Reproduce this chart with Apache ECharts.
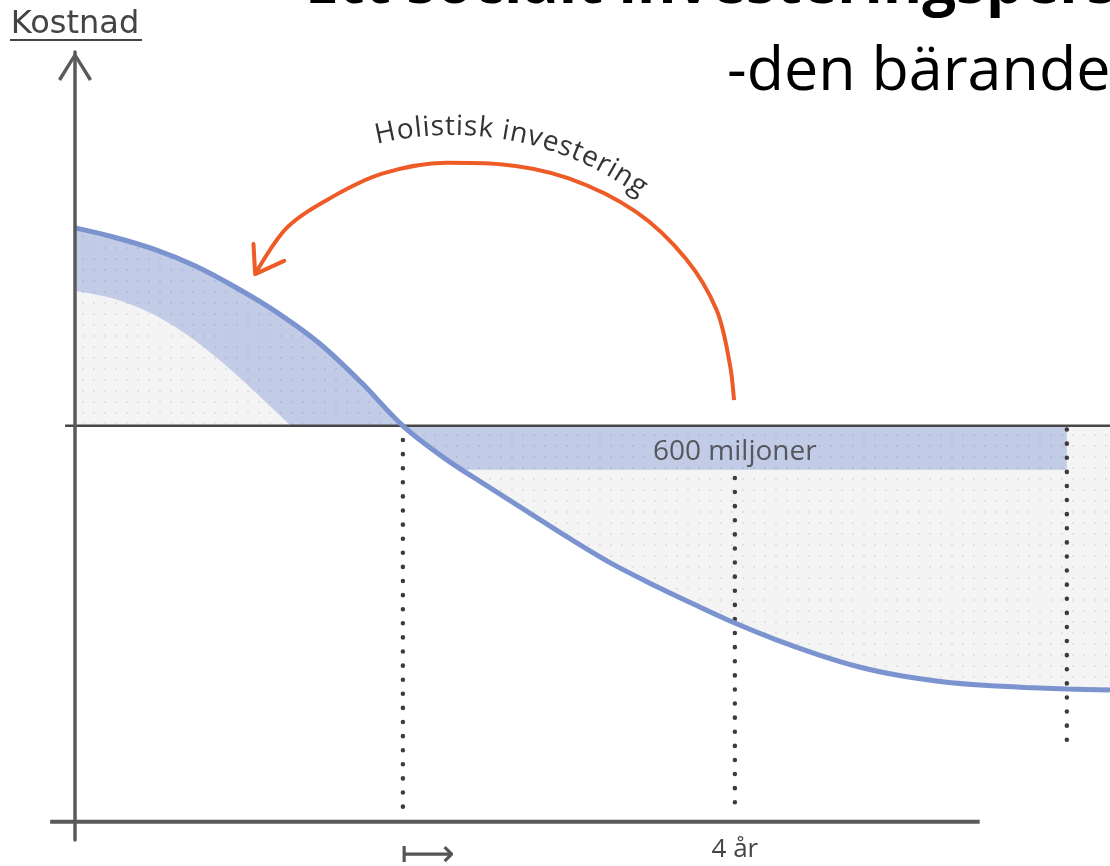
<!DOCTYPE html>
<html>
<head>
<meta charset="utf-8">
<title>Ett socialt investeringsperspektiv</title>
<script src="https://cdn.jsdelivr.net/npm/echarts@6/dist/echarts.min.js"></script>
<style>
    html, body { margin: 0; padding: 0; background: #fff; }
    #chart { width: 1110px; height: 866px; }
</style>
</head>
<body>
<div id="chart"></div>
<script>
// years, 0 = where the cost curve crosses today's level
var curveYears = [-3.95, -3.5, -3, -2.5, -2, -1.5, -1, -0.5, 0, 0.5, 1, 1.5, 2, 2.5, 3, 3.5, 4, 4.5, 5, 5.5, 6, 6.5, 7, 7.5, 8, 8.52]
// cost, in 100 miljoner
var costCurve = [81.0, 79.8, 78.1, 75.8, 72.8, 69.35, 65.2, 59.9, 54.0, 49.6, 45.9, 42.3, 38.7, 35.3, 32.4, 29.7, 27.1, 24.8, 22.8, 21.1, 19.9, 19.1, 18.6, 18.3, 18.1, 17.95]
// lower edge of the left band
var bandYears = [-3.95, -3.5, -3, -2.5, -2, -1.5, -1.35]
var bandCost = [72.4, 71.4, 69.2, 65.6, 60.9, 55.6, 54.0]

var costLevel = 54
var saving = 6            // 600 miljoner
var savingStart = 0.72    // where the curve reaches the bottom of the band
var savingEnd = 8
var savingLabel = '600 miljoner'

// dotted drop lines: [year, from, to]
var dropLines = [[0, 54, 1.6], [4, 46.9, 1.6], [8, 53.5, 10.1]]

var tickYears = [0, 4]
var tickLabels = ['{arr|⟼}', '4 år']

// the orange "Holistisk investering" arrow
var arcYears = [3.99, 3.94, 3.78, 3.41, 2.81, 1.99, 1.17, 0.52, -0.25, -0.87, -1.40, -1.78]
var arcCost = [57.5, 62.4, 69.8, 76.8, 83.2, 87.8, 89.7, 89.9, 88.4, 85.1, 81.0, 74.7]
var headYears = [-1.80, -1.78, -1.43]
var headCost = [78.8, 74.7, 76.5]

var levelLine = [-4.07, 8.52]
var baseLine = [-4.25, 6.95]

var blue = '#7b93cf'
var orange = '#ee5b26'
var SMOOTH = 0.33

function pairs(xs, ys) {
    var out = []
    for (var i = 0; i < xs.length; i++) {
        out.push([xs[i], ys[i]])
    }
    return out
}

function dots(bg, dot) {
    var c = document.createElement('canvas')
    c.width = 11
    c.height = 11
    var g = c.getContext('2d')
    g.fillStyle = bg
    g.fillRect(0, 0, 11, 11)
    g.fillStyle = dot
    g.fillRect(5, 5, 2, 2)
    return { image: c, repeat: 'repeat' }
}

var bluePattern = dots('#c2cce6', '#b2bedd')
var grayPattern = dots('#f4f4f4', '#e2e2e2')

function area(name, data, fill, smooth) {
    return {
        name: name,
        type: 'line',
        data: data,
        smooth: smooth,
        symbol: 'none',
        silent: true,
        lineStyle: { width: 0 },
        areaStyle: { color: fill, origin: costLevel, opacity: 1 }
    }
}

function plain(name, data, color, width, extra) {
    var s = {
        name: name,
        type: 'line',
        data: data,
        symbol: 'none',
        silent: true,
        lineStyle: { color: color, width: width }
    }
    for (var k in extra) s[k] = extra[k]
    return s
}

var curve = pairs(curveYears, costCurve)
var leftPart = curve.filter(function (p) { return p[0] <= 0 })
var rightPart = curve.filter(function (p) { return p[0] >= 0 })
var savingPart = rightPart.filter(function (p) { return p[0] < savingStart })
savingPart.push([savingStart, costLevel - saving])
savingPart.push([savingEnd, costLevel - saving])

var series = [
    area('band', leftPart, bluePattern, SMOOTH),
    area('under band', pairs(bandYears, bandCost), grayPattern, SMOOTH),
    area('after', rightPart, grayPattern, SMOOTH),
    area('saving', savingPart, bluePattern, false)
]

dropLines.forEach(function (d, i) {
    series.push(plain('drop' + i, [[d[0], d[1]], [d[0], d[2]]], '#3c3c3c', 4.5, {
        lineStyle: { color: '#3c3c3c', width: 4.5, type: [0.1, 14], cap: 'round' }
    }))
})

series.push(plain('level', [[levelLine[0], costLevel], [levelLine[1], costLevel]], '#474747', 2.5))
series.push(plain('x axis', [[baseLine[0], 0], [baseLine[1], 0]], '#5a5a5a', 4))
series.push(plain('kostnad', curve, blue, 5, { smooth: SMOOTH }))
series.push(plain('arc', pairs(arcYears, arcCost), orange, 4, { smooth: SMOOTH }))
series.push(plain('arrow head', pairs(headYears, headCost), orange, 4, {
    lineStyle: { color: orange, width: 4, join: 'round', cap: 'round' }
}))
series.push({
    name: 'saving label',
    type: 'scatter',
    data: [[4, 50.4]],
    symbolSize: 1,
    silent: true,
    z: 10,
    itemStyle: { color: 'rgba(0,0,0,0)' },
    label: {
        show: true,
        position: 'inside',
        formatter: savingLabel,
        fontFamily: 'Open Sans',
        fontSize: 28,
        color: '#3a3a3a'
    }
})

// text that follows the arc
function curvedText(str, cx, cy, rx, ry, startX, size, spacing) {
    var ctx = document.createElement('canvas').getContext('2d')
    ctx.font = size + 'px "Open Sans"'
    var th = Math.acos((startX - cx) / rx)
    function walk(d) {
        while (d > 0) {
            var step = 0.0005
            d -= Math.sqrt(Math.pow(rx * Math.sin(th), 2) + Math.pow(ry * Math.cos(th), 2)) * step
            th -= step
        }
    }
    var els = []
    for (var i = 0; i < str.length; i++) {
        var ch = str[i]
        var w = ctx.measureText(ch).width
        walk(w / 2)
        var x = cx + rx * Math.cos(th)
        var y = cy - ry * Math.sin(th)
        var ang = Math.atan2(ry * Math.cos(th), rx * Math.sin(th))
        els.push({
            type: 'text',
            x: x,
            y: y,
            rotation: -ang,
            silent: true,
            style: {
                text: ch,
                fontFamily: 'Open Sans',
                fontSize: size,
                fill: '#333',
                align: 'center',
                verticalAlign: 'bottom'
            }
        })
        walk(w / 2 + spacing)
    }
    return els
}

var graphics = [
    {
        type: 'text', x: 305, y: 16, silent: true,
        style: { text: 'Ett socialt investeringsperspektiv', fontFamily: 'Open Sans', fontWeight: 'bold', fontSize: 60, fill: '#000', verticalAlign: 'bottom' }
    },
    {
        type: 'text', x: 727, y: 103, silent: true,
        style: { text: '-den bärande idén', fontFamily: 'Open Sans', fontSize: 61, fill: '#000', verticalAlign: 'bottom' }
    },
    {
        type: 'line', silent: true,
        shape: { x1: 10, y1: 40, x2: 142, y2: 40 },
        style: { stroke: '#444', lineWidth: 2 }
    }
].concat(curvedText('Holistisk investering', 452, 414, 293, 273, 378, 28, 0.4))

var chart = echarts.init(document.getElementById('chart'))
chart.setOption({
    animation: false,
    backgroundColor: '#fff',
    grid: { left: 46, right: 0, top: 52, bottom: 26, containLabel: false, outerBoundsMode: 'none' },
    xAxis: {
        type: 'value',
        min: -4.3,
        max: 8.52,
        axisLine: { show: false },
        axisTick: { show: false },
        splitLine: { show: false },
        axisLabel: {
            customValues: tickYears,
            margin: -3,
            fontFamily: 'Open Sans',
            fontSize: 26,
            color: '#444',
            formatter: function (v) {
                return tickLabels[tickYears.indexOf(v)]
            },
            rich: {
                arr: { width: 104, align: 'right', fontFamily: 'DejaVu Sans', fontSize: 38, color: '#555' }
            }
        }
    },
    yAxis: {
        type: 'value',
        min: -2.5,
        max: 105,
        offset: -29,
        z: 5,
        name: 'Kostnad',
        nameLocation: 'end',
        nameGap: 11,
        nameTextStyle: { fontFamily: 'DejaVu Sans', fontSize: 32, color: '#444' },
        axisLine: {
            show: true,
            onZero: false,
            lineStyle: { color: '#5a5a5a', width: 3.5 },
            symbol: ['none', 'path://M0,27L17,0L34,27L31,29L17,6L3,29Z'],
            symbolSize: [34, 29],
            symbolOffset: [0, -14.5]
        },
        axisTick: { show: false },
        axisLabel: { show: false },
        splitLine: { show: false }
    },
    graphic: graphics,
    series: series
})
</script>
</body>
</html>
